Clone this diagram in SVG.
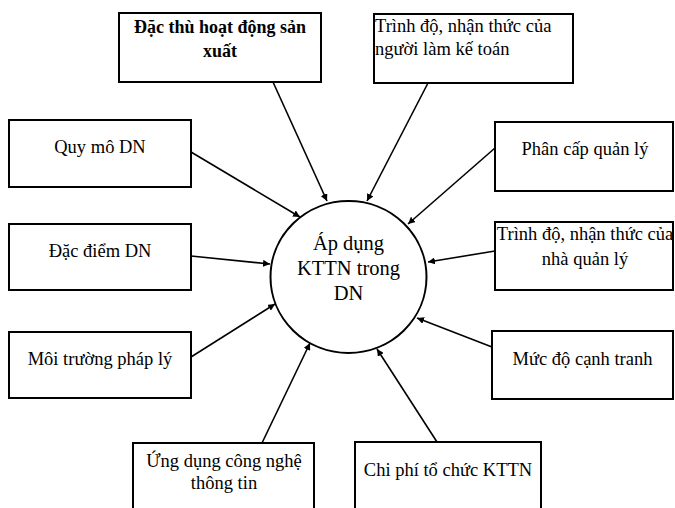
<svg xmlns="http://www.w3.org/2000/svg" width="675" height="508" viewBox="0 0 675 508">
<defs>
<marker id="ah" viewBox="0 0 10 10" refX="10" refY="5" markerWidth="7" markerHeight="7" markerUnits="userSpaceOnUse" orient="auto">
<path d="M0,0 L10,5 L0,10 Z" fill="#000"/>
</marker>
<style>
.box{fill:#fff;stroke:#000;stroke-width:2}
.t{font-family:"Liberation Serif","Times New Roman",serif;font-size:18.5px;fill:#000}
.c{text-anchor:middle}
.b{font-weight:bold;font-size:18px}
.conn line{stroke:#000;stroke-width:1.6;marker-end:url(#ah)}
</style>
</defs>
<rect width="675" height="508" fill="#fff"/>
<g id="connectors" class="conn">
<line x1="273" y1="82" x2="327" y2="201"/>
<line x1="428" y1="83" x2="367" y2="201"/>
<line x1="191" y1="152" x2="300" y2="217"/>
<line x1="191" y1="256" x2="270" y2="264"/>
<line x1="191" y1="357" x2="275" y2="304"/>
<line x1="495" y1="148" x2="408" y2="224"/>
<line x1="495" y1="251" x2="428" y2="262"/>
<line x1="492" y1="347" x2="417" y2="318"/>
<line x1="262" y1="443" x2="310" y2="343"/>
<line x1="437" y1="442" x2="377" y2="349"/>
</g>
<g id="center">
<ellipse cx="348.5" cy="277" rx="78" ry="76" fill="#fff" stroke="#000" stroke-width="2"/>
<text class="t c" x="348.5" y="250" style="font-size:20.5px">Áp dụng</text>
<text class="t c" x="348.5" y="275" style="font-size:20.5px">KTTN trong</text>
<text class="t c" x="348.5" y="300" style="font-size:20.5px">DN</text>
</g>
<g id="dac-thu">
<rect class="box" x="119" y="13" width="202" height="69"/>
<text class="t c b" x="220" y="33">Đặc thù hoạt động sản</text>
<text class="t c b" x="220" y="57">xuất</text>
</g>
<g id="trinh-do-ke-toan">
<rect class="box" x="374" y="14" width="199" height="69"/>
<text class="t" x="375" y="32">Trình độ, nhận thức của</text>
<text class="t" x="375" y="55">người làm kế toán</text>
</g>
<g id="quy-mo">
<rect class="box" x="9" y="120" width="182" height="67"/>
<text class="t c" x="100" y="153">Quy mô DN</text>
</g>
<g id="dac-diem">
<rect class="box" x="9" y="224" width="182" height="66"/>
<text class="t c" x="100" y="257">Đặc điểm DN</text>
</g>
<g id="moi-truong">
<rect class="box" x="9" y="332" width="182" height="66"/>
<text class="t c" x="100" y="365">Môi trường pháp lý</text>
</g>
<g id="phan-cap">
<rect class="box" x="495" y="122" width="178" height="69"/>
<text class="t c" x="585" y="155">Phân cấp quản lý</text>
</g>
<g id="trinh-do-quan-ly">
<rect class="box" x="495" y="222" width="178" height="68"/>
<text class="t c" x="585" y="240">Trình độ, nhận thức của</text>
<text class="t c" x="585" y="265">nhà quản lý</text>
</g>
<g id="canh-tranh">
<rect class="box" x="492" y="331" width="181" height="68"/>
<text class="t c" x="582.5" y="365">Mức độ cạnh tranh</text>
</g>
<g id="cntt">
<rect class="box" x="133" y="443" width="181" height="70"/>
<text class="t c" x="224" y="467">Ứng dụng công nghệ</text>
<text class="t c" x="224" y="489">thông tin</text>
</g>
<g id="chi-phi">
<rect class="box" x="355" y="442" width="186" height="71"/>
<text class="t c" x="448" y="476">Chi phí tổ chức KTTN</text>
</g>
</svg>
